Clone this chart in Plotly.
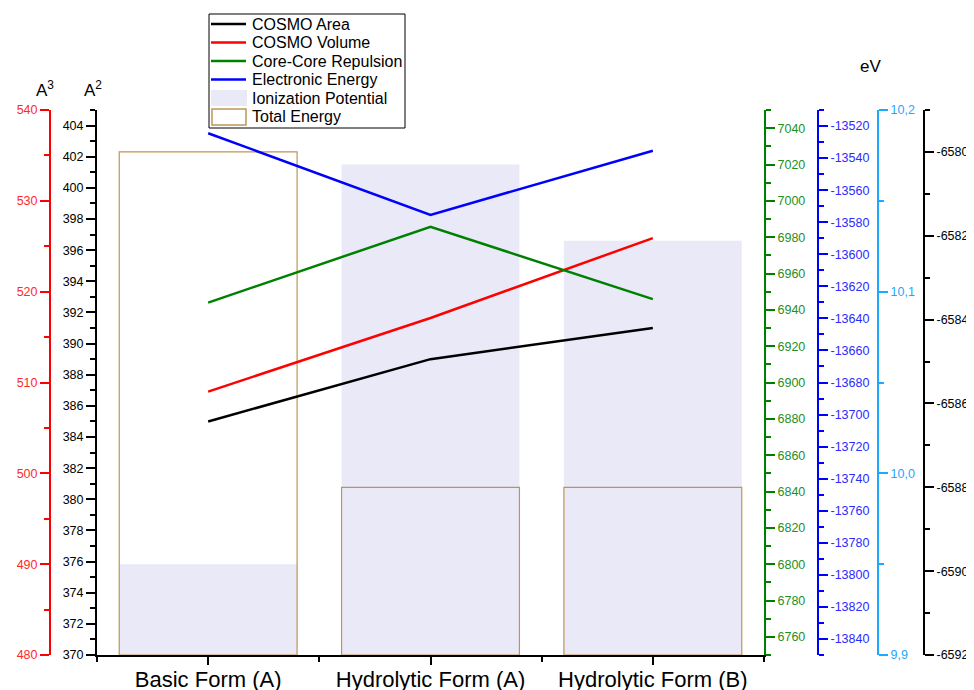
import plotly.graph_objects as go

categories = ["Basic Form (A)", "Hydrolytic Form (A)", "Hydrolytic Form (B)"]
cosmo_area = [385.0, 389.0, 391.0]            # A^2
cosmo_volume = [509.0, 517.1, 525.9]          # A^3
core_core = [6944.0, 6985.7, 6945.9]          # eV
electronic_energy = [-13524.5, -13575.4, -13535.4]  # eV
ionization_potential = [9.95, 10.17, 10.128]  # eV
total_energy = [-6580.0, -6588.0, -6588.0]    # eV

series_names = ["COSMO Area", "COSMO Volume", "Core-Core Repulsion",
                "Electronic Energy", "Ionization Potential", "Total Energy"]

IP_RANGE = [9.9, 10.2]
TE_RANGE = [-6592, -6579]
EE_RANGE = [-13850, -13510]

FONT = "Liberation Sans, Arial, sans-serif"
C_BLACK, C_RED, C_GREEN, C_BLUE, C_LBLUE = "black", "#ff0000", "#008000", "#0000ff", "#1ea8ff"
C_IP_FILL = "#eae9f8"
C_TE_LINE = "#bd9655"

xs = list(range(len(categories)))

fig = go.Figure()

# bars (drawn first, behind lines)
fig.add_trace(go.Bar(
    x=xs, y=[v - IP_RANGE[0] for v in ionization_potential], base=IP_RANGE[0],
    width=0.8, name=series_names[4], yaxis="y",
    marker=dict(color=C_IP_FILL, line=dict(width=0))))
fig.add_trace(go.Bar(
    x=xs, y=[v - TE_RANGE[0] for v in total_energy], base=TE_RANGE[0],
    width=0.8, name=series_names[5], yaxis="y2",
    marker=dict(color="rgba(0,0,0,0)", line=dict(color=C_TE_LINE, width=1.2))))

# lines
line_series = [(cosmo_area, C_BLACK, "y3"), (cosmo_volume, C_RED, "y4"),
               (core_core, C_GREEN, "y5"), (electronic_energy, C_BLUE, "y6")]
for i, (vals, col, ax) in enumerate(line_series):
    fig.add_trace(go.Scatter(x=xs, y=vals, mode="lines", name=series_names[i], yaxis=ax,
                             line=dict(color=col, width=2.5)))

# page offset (browser body margin) compensation
OFF = 8
W, H = 974, 690
PLOT_X0, PLOT_X1, PLOT_Y0, PLOT_Y1 = 97, 764, 110, 655   # target pixels on the page
L, R = 2, 2
T = PLOT_Y0 - OFF
B = H - (PLOT_Y1 - OFF)
pw = W - L - R
ph = H - T - B

def px(xpix):
    return (xpix - OFF - L) / pw

def py(ypix):
    return (H - B - (ypix - OFF)) / ph

TICKSIZE = 12.5

def yax(color, rng, dtick, minor_dtick, side, tickcolor=None, **kw):
    d = dict(range=rng, dtick=dtick, tick0=0, showgrid=False, zeroline=False,
             showline=True, linewidth=2, linecolor=color,
             ticks="outside", ticklen=9, tickwidth=2, tickcolor=color,
             tickfont=dict(color=tickcolor or color, size=TICKSIZE, family=FONT),
             minor=dict(ticks="outside", ticklen=5, tickwidth=2, tickcolor=color,
                        dtick=minor_dtick, tick0=0, showgrid=False),
             side=side, fixedrange=True, automargin=False)
    d.update(kw)
    return d

ee_ticks = list(range(-13840, EE_RANGE[1] + 1, 20))
te_ticks = list(range(TE_RANGE[0], TE_RANGE[1] + 1, 2))

# manual legend (box, samples, labels)
shapes = [dict(type="rect", xref="paper", yref="paper",
               x0=px(209), x1=px(405), y0=py(128), y1=py(14),
               line=dict(color="black", width=1), fillcolor="white", layer="above")]
row_y = [24, 42.5, 61, 79.5, 98, 117]
for i, col in enumerate([C_BLACK, C_RED, C_GREEN, C_BLUE]):
    shapes.append(dict(type="line", xref="paper", yref="paper",
                       x0=px(211), x1=px(246), y0=py(row_y[i]), y1=py(row_y[i]),
                       line=dict(color=col, width=2.5), layer="above"))
shapes.append(dict(type="rect", xref="paper", yref="paper",
                   x0=px(211), x1=px(247), y0=py(row_y[4] + 8), y1=py(row_y[4] - 8),
                   line=dict(width=0), fillcolor=C_IP_FILL, layer="above"))
shapes.append(dict(type="rect", xref="paper", yref="paper",
                   x0=px(212), x1=px(246), y0=py(row_y[5] + 8), y1=py(row_y[5] - 8),
                   line=dict(color=C_TE_LINE, width=1.5), fillcolor="rgba(0,0,0,0)", layer="above"))

def title_ann(text, xp, yp):
    return dict(text=text, x=px(xp), y=py(yp), xref="paper", yref="paper",
                xanchor="center", yanchor="middle", showarrow=False,
                font=dict(size=17, family=FONT, color="black"))

annotations = [
    title_ann("A<sup>3</sup>", 45, 89),
    title_ann("A<sup>2</sup>", 93, 89),
    title_ann("eV", 870, 66),
]
for i, name in enumerate(series_names):
    annotations.append(dict(text=name, x=px(250), y=py(row_y[i]), xref="paper", yref="paper",
                            xanchor="left", yanchor="middle", showarrow=False,
                            font=dict(size=16, family=FONT, color="black")))

fig.update_layout(
    width=W, height=H,
    margin=dict(l=L, r=R, t=T, b=B),
    paper_bgcolor="white", plot_bgcolor="white",
    font=dict(family=FONT, color="black"),
    barmode="overlay",
    separators=",.",
    showlegend=False,
    xaxis=dict(domain=[px(PLOT_X0), px(PLOT_X1)], range=[-0.5, 2.5],
               tickmode="array", tickvals=xs, ticktext=categories,
               showline=True, linewidth=2, linecolor="black",
               ticks="outside", ticklen=8, tickwidth=2, tickcolor="black",
               ticklabelstandoff=-4,
               tickfont=dict(size=22, family=FONT, color="black"),
               minor=dict(tickmode="linear", tick0=-0.5, dtick=1, ticks="outside",
                          ticklen=5, tickwidth=2, tickcolor="black", showgrid=False),
               showgrid=False, zeroline=False, fixedrange=True, automargin=False),
    yaxis=yax(C_LBLUE, IP_RANGE, 0.1, 0.05, "right", anchor="free",
              position=px(878), tickformat=".1f"),
    yaxis2=yax(C_BLACK, TE_RANGE, 2, 1, "right", anchor="free", overlaying="y",
               position=px(924), tickmode="array", tickvals=te_ticks,
               ticktext=[str(v) for v in te_ticks]),
    yaxis3=yax(C_BLACK, [370, 405], 2, 1, "left", anchor="x", overlaying="y"),
    yaxis4=yax(C_RED, [480, 540], 10, 5, "left", anchor="free", overlaying="y",
               position=px(50), tickcolor="#ff2a2a"),
    yaxis5=yax(C_GREEN, [6750, 7050], 20, 10, "right", anchor="x", overlaying="y",
               tickcolor="#1f8f1f", tickformat="d"),
    yaxis6=yax(C_BLUE, EE_RANGE, 20, 10, "right", anchor="free", overlaying="y",
               position=px(818), tickcolor="#2b2bff", tickmode="array",
               tickvals=ee_ticks, ticktext=[str(v) for v in ee_ticks]),
    shapes=shapes,
    annotations=annotations,
)

fig.write_html("out.html")
